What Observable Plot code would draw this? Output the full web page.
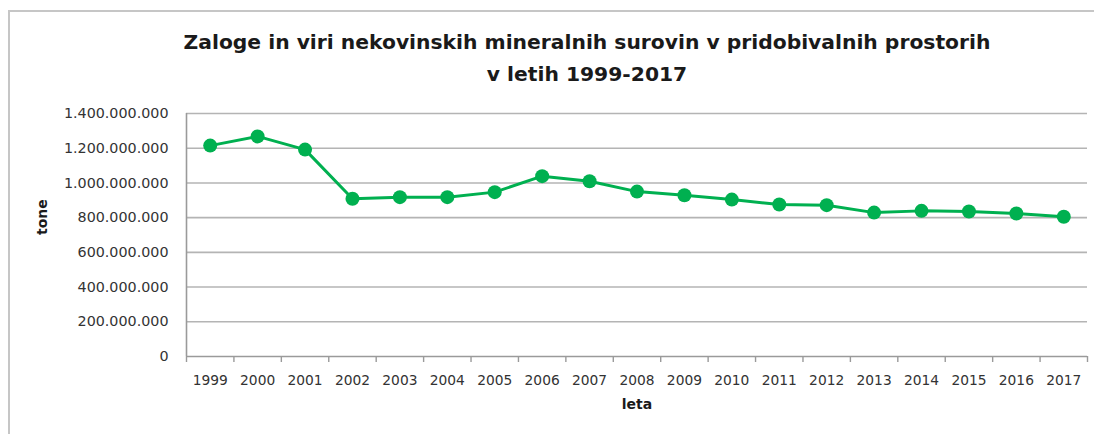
<!DOCTYPE html>
<html>
<head>
<meta charset="utf-8">
<script src="https://cdn.jsdelivr.net/npm/d3@7"></script>
<script src="https://cdn.jsdelivr.net/npm/@observablehq/plot@0.6"></script>
<style>
  body { margin: 0; background: #ffffff; }
  #wrap { position: relative; width: 1094px; height: 434px; overflow: hidden; font-family: "DejaVu Sans", sans-serif; background: #fff; }
  #frame { position: absolute; left: 8px; top: 10px; right: -20px; bottom: -20px; border-left: 2px solid #c6c6c6; border-top: 2px solid #c6c6c6; }
  #title { position: absolute; left: 587px; top: 26px; transform: translateX(-50%); white-space: nowrap; text-align: center; font-weight: bold; font-size: 20.3px; line-height: 32px; color: #1a1a1a; }
  #chart { position: absolute; left: 0; top: 100px; }
</style>
</head>
<body>
<div id="wrap">
  <div id="frame"></div>
  <div id="title">Zaloge in viri nekovinskih mineralnih surovin v pridobivalnih prostorih<br>v letih 1999-2017</div>
  <div id="chart"></div>
</div>
<script>
const years = [1999, 2000, 2001, 2002, 2003, 2004, 2005, 2006, 2007, 2008, 2009, 2010, 2011, 2012, 2013, 2014, 2015, 2016, 2017];
const values = [1215000000, 1268000000, 1192000000, 909000000, 918000000, 918000000, 947000000, 1039000000, 1010000000, 950000000, 929000000, 904000000, 876000000, 872000000, 829000000, 839000000, 835000000, 824000000, 805000000];
const yTicks = [0, 200000000, 400000000, 600000000, 800000000, 1000000000, 1200000000, 1400000000];
const yLabel = "tone";
const xLabel = "leta";

const rows = years.map((y, i) => ({year: y, value: values[i]}));
const boundaries = [years[0] - 0.5, ...years.map(y => y + 0.5)];
const fmt = d3.formatLocale({decimal: ",", thousands: ".", grouping: [3], currency: ["", ""]}).format(",d");

const chart = Plot.plot({
  width: 1094,
  height: 334,
  marginLeft: 186,
  marginRight: 7,
  marginTop: 13,
  marginBottom: 78,
  style: {fontFamily: "DejaVu Sans, sans-serif", background: "transparent"},
  x: {type: "linear", domain: [years[0] - 0.5, years[years.length - 1] + 0.5]},
  y: {domain: [0, 1400000000]},
  marks: [
    Plot.ruleY(yTicks.filter(d => d > 0), {stroke: "#b4b4b4", strokeWidth: 1.6}),
    Plot.ruleX([boundaries[0]], {stroke: "#9a9a9a", strokeWidth: 1.6}),
    Plot.ruleY([0], {stroke: "#9a9a9a", strokeWidth: 1.6}),
    Plot.axisX(boundaries, {tickSize: 6, tickFormat: () => "", stroke: "#9a9a9a", strokeWidth: 1.4, label: null}),
    Plot.axisX(years, {tickSize: 0, tickPadding: 19, tickFormat: d => String(d), fontSize: 13.8, fill: "#333", label: null}),
    Plot.axisY(yTicks, {tickSize: 0, tickPadding: 18, tickFormat: fmt, fontSize: 14.3, fill: "#333", label: null}),
    Plot.text([yLabel], {frameAnchor: "left", dx: -144, rotate: -90, fontWeight: "bold", fontSize: 14, fill: "#1a1a1a"}),
    Plot.text([xLabel], {frameAnchor: "bottom", dy: 52, fontWeight: "bold", fontSize: 14, fill: "#1a1a1a"}),
    Plot.line(rows, {x: "year", y: "value", stroke: "#00b050", strokeWidth: 3}),
    Plot.dot(rows, {x: "year", y: "value", r: 7, fill: "#00b050"})
  ]
});
document.getElementById("chart").appendChild(chart);
</script>
</body>
</html>
